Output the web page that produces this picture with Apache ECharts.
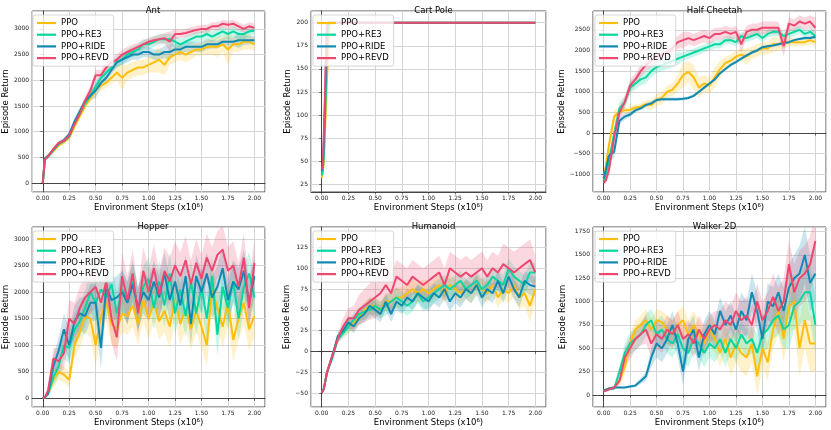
<!DOCTYPE html>
<html>
<head>
<meta charset="UTF-8">
<title>Episode Return</title>
</head>
<body style="margin: 0">
<div id="container" style="width: 831px; height: 430px"></div>

<script type="text/javascript" src="https://cdn.jsdelivr.net/npm/echarts@6/dist/echarts.min.js"></script>
<script type="text/javascript">
    // environment steps (x10^6)
    var steps = [0, 0.02, 0.05, 0.1, 0.15, 0.2, 0.25, 0.3, 0.35, 0.4, 0.45, 0.5, 0.55, 0.6, 0.65, 0.7, 0.75, 0.8, 0.85, 0.9, 0.95,
        1.0, 1.05, 1.1, 1.15, 1.2, 1.25, 1.3, 1.35, 1.4, 1.45, 1.5, 1.55, 1.6, 1.65, 1.7, 1.75, 1.8, 1.85, 1.9, 1.95, 2.0];
    var cartSteps = [0, 0.01, 0.02, 0.03, 0.04, 0.05, 0.06, 0.07, 0.08, 0.1, 0.5, 1.0, 1.5, 2.0];

    var methods = ['PPO', 'PPO+RE3', 'PPO+RIDE', 'PPO+REVD'];
    var colors = ['#FFBE0B', '#06D6A0', '#118AB2', '#EF476F'];

    // Ant
    var antPPO = [0, 470, 520, 620, 730, 800, 880, 1100, 1300, 1500, 1650, 1800, 1900, 1950, 2050, 2150, 2050, 2150, 2200, 2250, 2250,
        2300, 2350, 2400, 2300, 2450, 2500, 2550, 2500, 2550, 2600, 2600, 2650, 2650, 2650, 2700, 2600, 2700, 2700, 2750, 2750, 2700];
    var antRE3 = [0, 460, 510, 640, 760, 820, 900, 1150, 1350, 1550, 1700, 1880, 2050, 2150, 2250, 2350, 2400, 2500, 2550, 2600, 2700,
        2700, 2750, 2800, 2800, 2800, 2750, 2700, 2750, 2800, 2850, 2850, 2900, 2850, 2900, 2950, 2900, 2950, 2900, 2900, 2950, 2970];
    var antRIDE = [0, 480, 530, 650, 770, 830, 950, 1200, 1400, 1600, 1700, 1800, 1950, 2050, 2200, 2350, 2400, 2450, 2500, 2500, 2550,
        2550, 2500, 2500, 2550, 2550, 2600, 2600, 2650, 2650, 2650, 2650, 2700, 2700, 2700, 2750, 2750, 2750, 2780, 2780, 2780, 2780];
    var antREVD = [0, 460, 520, 660, 780, 820, 920, 1150, 1350, 1600, 1800, 2100, 2100, 2250, 2350, 2400, 2500, 2550, 2600, 2650, 2700,
        2750, 2780, 2800, 2820, 2750, 2900, 2900, 2920, 2950, 2980, 3000, 3000, 3050, 3050, 3100, 3080, 3100, 3050, 3000, 3050, 3020];
    var antPPOSd = [0, 20, 30, 40, 40, 50, 50, 60, 60, 70, 80, 90, 100, 100, 120, 150, 250, 150, 150, 150, 150,
        150, 200, 250, 200, 150, 150, 150, 150, 150, 120, 120, 150, 150, 200, 150, 300, 150, 150, 150, 150, 120];
    var antRE3Sd = [0, 20, 30, 40, 40, 50, 50, 60, 60, 60, 70, 80, 80, 80, 80, 100, 100, 100, 100, 100, 100,
        100, 100, 100, 100, 100, 120, 100, 100, 100, 100, 100, 100, 100, 100, 100, 100, 100, 100, 100, 100, 80];
    var antRIDESd = [0, 20, 30, 40, 40, 50, 50, 60, 60, 60, 80, 150, 100, 80, 80, 100, 100, 100, 100, 100, 100,
        100, 100, 100, 120, 150, 100, 100, 100, 100, 100, 100, 100, 80, 80, 80, 80, 80, 150, 100, 80, 80];
    var antREVDSd = [0, 20, 30, 40, 40, 50, 50, 60, 60, 80, 100, 100, 100, 100, 100, 100, 100, 100, 100, 80, 80,
        80, 80, 80, 100, 200, 100, 80, 80, 80, 80, 80, 80, 80, 80, 80, 80, 80, 80, 80, 80, 80];

    // Cart Pole
    var cartPPO = [32, 38, 50, 80, 110, 140, 165, 190, 200, 200, 200, 200, 200, 200];
    var cartRE3 = [35, 40, 55, 90, 130, 170, 200, 200, 200, 200, 200, 200, 200, 200];
    var cartRIDE = [40, 45, 70, 110, 150, 190, 200, 200, 200, 200, 200, 200, 200, 200];
    var cartREVD = [42, 45, 80, 120, 170, 200, 200, 200, 200, 200, 200, 200, 200, 200];
    var cartPPOSd = [6, 6, 10, 12, 12, 10, 8, 5, 0, 0, 0, 0, 0, 0];
    var cartRE3Sd = [5, 5, 8, 10, 10, 5, 0, 0, 0, 0, 0, 0, 0, 0];
    var cartRIDESd = [5, 5, 8, 10, 10, 5, 0, 0, 0, 0, 0, 0, 0, 0];
    var cartREVDSd = [5, 5, 8, 10, 8, 0, 0, 0, 0, 0, 0, 0, 0, 0];

    // Half Cheetah
    var hcPPO = [-1100, -800, -300, 400, 520, 550, 560, 620, 640, 700, 680, 800, 850, 1000, 1050, 1200, 1400, 1480, 1350, 1100, 1200,
        1150, 1350, 1550, 1700, 1750, 1850, 1900, 1850, 1950, 2000, 2050, 2050, 2150, 2150, 2200, 2200, 2200, 2200, 2200, 2250, 2200];
    var hcRE3 = [-1150, -1000, -700, 0, 600, 750, 1100, 1200, 1300, 1350, 1500, 1600, 1650, 1700, 1750, 1800, 1850, 1900, 1950, 2000, 2050,
        2100, 2150, 2150, 2250, 2250, 2200, 2350, 2300, 2350, 2400, 2300, 2400, 2450, 2450, 2350, 2400, 2450, 2500, 2400, 2450, 2350];
    var hcRIDE = [-1100, -900, -550, -450, 300, 400, 450, 550, 600, 680, 720, 800, 820, 820, 820, 820, 830, 850, 900, 1000, 1100,
        1200, 1300, 1450, 1550, 1650, 1720, 1800, 1880, 1950, 2000, 2080, 2100, 2120, 2150, 2180, 2200, 2250, 2280, 2300, 2300, 2330];
    var hcREVD = [-1200, -1150, -900, -100, 500, 750, 1150, 1300, 1500, 1650, 1750, 1850, 1900, 1950, 2050, 2200, 2250, 2300, 2250, 2300, 2350,
        2300, 2400, 2400, 2450, 2400, 2450, 2150, 2450, 2500, 2500, 2550, 2550, 2550, 2550, 2100, 2650, 2600, 2700, 2650, 2700, 2550];
    var hcPPOSd = [50, 100, 200, 150, 100, 80, 80, 80, 80, 100, 120, 150, 150, 150, 150, 200, 300, 250, 300, 250, 200,
        200, 250, 200, 150, 150, 150, 150, 200, 150, 150, 150, 150, 200, 150, 150, 100, 100, 100, 100, 100, 100];
    var hcRE3Sd = [50, 80, 150, 150, 150, 150, 150, 150, 150, 150, 150, 150, 150, 150, 150, 150, 100, 100, 100, 100, 100,
        100, 100, 100, 100, 100, 100, 100, 100, 100, 100, 100, 100, 100, 100, 100, 100, 100, 100, 100, 100, 100];
    var hcRIDESd = [50, 80, 150, 150, 100, 80, 60, 50, 50, 50, 50, 50, 40, 40, 40, 40, 40, 40, 40, 40, 40,
        40, 40, 40, 40, 40, 40, 40, 40, 40, 40, 40, 40, 40, 40, 40, 40, 40, 40, 40, 40, 40];
    var hcREVDSd = [50, 80, 150, 200, 150, 150, 150, 150, 150, 150, 150, 150, 150, 150, 150, 150, 200, 150, 150, 150, 150,
        150, 150, 150, 150, 150, 150, 200, 150, 150, 150, 150, 150, 150, 150, 250, 150, 150, 150, 150, 150, 250];

    // Hopper
    var hopPPO = [0, 20, 100, 350, 500, 450, 350, 1000, 1250, 1550, 1500, 1000, 1550, 1800, 1400, 1300, 1600, 1550, 1750, 1400, 1850,
        1500, 1800, 1450, 1650, 1350, 1850, 1400, 1700, 1300, 1650, 1350, 1000, 2050, 1700, 1350, 1800, 1100, 1500, 1800, 1300, 1550];
    var hopRE3 = [0, 20, 80, 400, 600, 1000, 950, 1300, 1450, 1700, 2000, 1800, 2050, 1900, 2150, 1600, 2050, 1800, 2200, 1650, 2100,
        2250, 1700, 2200, 1750, 2350, 1600, 2050, 1550, 2200, 1600, 2100, 1500, 2300, 1200, 2100, 1700, 2200, 1500, 2100, 2350, 1900];
    var hopRIDE = [0, 20, 100, 600, 900, 1300, 1000, 1450, 1600, 1550, 1800, 1800, 950, 2100, 1850, 1900, 2000, 1800, 2150, 1700, 2000,
        1850, 2200, 1900, 2350, 1850, 2200, 1750, 2300, 1400, 2300, 2000, 2350, 1900, 2100, 2450, 1850, 2200, 2050, 2400, 1800, 2300];
    var hopREVD = [0, 20, 150, 750, 700, 850, 1500, 1400, 1700, 1900, 2000, 2100, 1800, 2200, 1500, 1150, 2300, 1850, 2350, 1600, 2400,
        2000, 2450, 1950, 2400, 2200, 2500, 2300, 2600, 2150, 2550, 2250, 2650, 2400, 2700, 2800, 2400, 2500, 2100, 2650, 1700, 2550];
    var hopPPOSd = [0, 20, 50, 150, 150, 150, 150, 250, 300, 300, 350, 400, 350, 350, 400, 350, 350, 350, 400, 400, 400,
        400, 350, 350, 400, 400, 350, 400, 400, 400, 400, 400, 400, 450, 400, 400, 400, 400, 400, 400, 400, 400];
    var hopRE3Sd = [0, 20, 50, 150, 200, 250, 300, 300, 300, 350, 350, 350, 400, 400, 400, 400, 400, 400, 400, 400, 400,
        400, 400, 400, 400, 400, 400, 400, 400, 400, 400, 400, 400, 400, 400, 400, 400, 400, 400, 400, 400, 400];
    var hopRIDESd = [0, 20, 50, 200, 250, 300, 300, 300, 300, 350, 350, 350, 400, 400, 400, 400, 400, 400, 400, 400, 400,
        400, 400, 400, 400, 400, 400, 400, 400, 400, 400, 400, 400, 400, 400, 400, 400, 400, 400, 400, 400, 400];
    var hopREVDSd = [0, 20, 50, 200, 250, 300, 350, 400, 400, 400, 400, 400, 400, 400, 450, 450, 450, 450, 450, 450, 450,
        450, 450, 450, 450, 450, 450, 450, 450, 450, 450, 450, 450, 450, 450, 450, 450, 450, 450, 450, 450, 450];

    // Humanoid
    var humPPO = [-50, -45, -25, -5, 15, 25, 30, 35, 40, 50, 55, 55, 50, 60, 60, 65, 65, 70, 75, 70, 75,
        70, 75, 80, 70, 80, 75, 70, 75, 70, 80, 75, 70, 80, 65, 75, 70, 80, 65, 70, 55, 75];
    var humRE3 = [-50, -45, -25, -8, 15, 22, 30, 38, 45, 48, 50, 55, 50, 55, 60, 65, 60, 55, 60, 70, 60,
        65, 70, 75, 80, 75, 80, 85, 75, 80, 85, 75, 80, 90, 85, 80, 100, 90, 85, 80, 95, 95];
    var humRIDE = [-50, -45, -25, -5, 18, 25, 35, 30, 40, 45, 55, 50, 45, 60, 45, 60, 55, 65, 60, 70, 65,
        60, 70, 65, 75, 60, 70, 65, 75, 70, 80, 65, 75, 70, 85, 70, 90, 75, 65, 85, 80, 78];
    var humREVD = [-50, -45, -25, -5, 15, 30, 40, 40, 50, 55, 60, 65, 70, 80, 70, 90, 85, 80, 90, 85, 80,
        85, 90, 95, 80, 100, 95, 90, 95, 90, 95, 100, 90, 100, 95, 105, 100, 95, 100, 105, 110, 95];
    var humPPOSd = [0, 2, 3, 4, 5, 6, 8, 8, 8, 10, 10, 10, 10, 10, 10, 12, 12, 12, 12, 12, 12,
        12, 12, 12, 12, 12, 12, 12, 12, 12, 12, 12, 12, 12, 12, 12, 12, 15, 15, 15, 20, 15];
    var humRE3Sd = [0, 2, 3, 4, 5, 6, 8, 8, 8, 10, 10, 10, 10, 12, 12, 12, 12, 12, 12, 12, 12,
        12, 12, 12, 12, 12, 12, 12, 12, 12, 12, 12, 12, 12, 12, 12, 12, 12, 12, 12, 12, 12];
    var humRIDESd = [0, 2, 3, 4, 5, 6, 8, 8, 8, 10, 10, 10, 10, 10, 10, 10, 10, 10, 10, 10, 12,
        12, 12, 12, 12, 12, 12, 12, 12, 12, 12, 12, 12, 12, 12, 12, 12, 12, 12, 12, 12, 12];
    var humREVDSd = [0, 2, 3, 4, 6, 10, 12, 15, 18, 20, 22, 25, 25, 25, 25, 20, 20, 20, 20, 20, 20,
        20, 20, 20, 20, 20, 20, 20, 20, 20, 20, 20, 20, 20, 20, 25, 25, 25, 25, 25, 25, 20];

    // Walker 2D
    var walkPPO = [50, 55, 70, 80, 150, 300, 550, 700, 750, 800, 700, 800, 780, 700, 650, 750, 800, 650, 750, 650, 550,
        700, 600, 450, 600, 400, 550, 450, 400, 550, 200, 500, 350, 700, 900, 600, 950, 1000, 500, 800, 550, 550];
    var walkRE3 = [40, 50, 60, 70, 250, 450, 550, 600, 650, 750, 800, 650, 700, 600, 550, 650, 500, 450, 600, 550, 450,
        550, 500, 600, 450, 600, 500, 650, 550, 600, 450, 650, 700, 800, 850, 700, 750, 950, 1000, 1100, 1100, 750];
    var walkRIDE = [50, 55, 70, 80, 80, 80, 90, 100, 150, 200, 400, 550, 500, 600, 750, 550, 250, 600, 700, 400, 650,
        750, 650, 900, 750, 850, 700, 900, 800, 1100, 900, 600, 1000, 950, 1100, 900, 1150, 1250, 1300, 1500, 1200, 1300];
    var walkREVD = [40, 45, 60, 80, 150, 400, 500, 600, 650, 700, 550, 650, 600, 700, 650, 750, 600, 650, 550, 700, 600,
        700, 750, 700, 800, 750, 900, 800, 850, 750, 1000, 800, 900, 1050, 900, 1000, 1400, 1100, 1250, 1300, 1400, 1650];
    var walkPPOSd = [5, 5, 10, 20, 40, 80, 100, 100, 100, 120, 120, 120, 120, 150, 150, 150, 150, 150, 150, 150, 150,
        150, 150, 150, 150, 200, 200, 200, 200, 200, 200, 200, 200, 200, 250, 250, 250, 300, 300, 300, 300, 300];
    var walkRE3Sd = [5, 5, 10, 20, 60, 100, 120, 120, 120, 120, 120, 150, 150, 150, 150, 150, 150, 150, 150, 150, 150,
        150, 150, 150, 150, 150, 150, 150, 150, 150, 200, 200, 200, 200, 200, 200, 250, 250, 250, 300, 300, 300];
    var walkRIDESd = [5, 5, 10, 10, 10, 10, 10, 20, 30, 50, 100, 150, 150, 150, 150, 150, 150, 150, 150, 150, 150,
        150, 150, 150, 150, 150, 150, 200, 200, 200, 200, 200, 200, 200, 200, 250, 250, 250, 300, 300, 300, 300];
    var walkREVDSd = [5, 5, 10, 20, 40, 100, 120, 120, 120, 150, 150, 150, 150, 150, 150, 150, 150, 150, 150, 150, 150,
        150, 150, 200, 200, 200, 200, 200, 200, 200, 200, 200, 200, 250, 250, 250, 250, 300, 300, 300, 300, 300];

    var panels = [
        {title: 'Ant', steps: steps, means: [antPPO, antRE3, antRIDE, antREVD], sds: [antPPOSd, antRE3Sd, antRIDESd, antREVDSd],
            yMin: -174, yMax: 3348, yStep: 500, left: 31, top: 11, width: 234, height: 181, nameGap: 21},
        {title: 'Cart Pole', steps: cartSteps, means: [cartPPO, cartRE3, cartRIDE, cartREVD], sds: [cartPPOSd, cartRE3Sd, cartRIDESd, cartREVDSd],
            yMin: 17, yMax: 212.6, yStep: 25, left: 311, top: 11, width: 235, height: 181, nameGap: 17},
        {title: 'Half Cheetah', steps: steps, means: [hcPPO, hcRE3, hcRIDE, hcREVD], sds: [hcPPOSd, hcRE3Sd, hcRIDESd, hcREVDSd],
            yMin: -1426, yMax: 2955, yStep: 500, left: 593, top: 11, width: 233, height: 181, nameGap: 26},
        {title: 'Hopper', steps: steps, means: [hopPPO, hopRE3, hopRIDE, hopREVD], sds: [hopPPOSd, hopRE3Sd, hopRIDESd, hopREVDSd],
            yMin: -161, yMax: 3225, yStep: 500, left: 31, top: 227, width: 234, height: 180, nameGap: 21},
        {title: 'Humanoid', steps: steps, means: [humPPO, humRE3, humRIDE, humREVD], sds: [humPPOSd, humRE3Sd, humRIDESd, humREVDSd],
            yMin: -66.8, yMax: 149.7, yStep: 25, left: 311, top: 227, width: 235, height: 180, nameGap: 17},
        {title: 'Walker 2D', steps: steps, means: [walkPPO, walkRE3, walkRIDE, walkREVD], sds: [walkPPOSd, walkRE3Sd, walkRIDESd, walkREVDSd],
            yMin: -129, yMax: 1799, yStep: 250, left: 593, top: 227, width: 233, height: 180, nameGap: 26}
    ];

    var FONT = 'DejaVu Sans';
    var dom = document.getElementById('container');
    var myChart = echarts.init(dom, null, {renderer: 'canvas'});

    var titles = [], grids = [], xAxes = [], yAxes = [], legends = [], series = [];

    function minusSign(v) {
        return String(v).replace('-', '\u2212');
    }

    // shaded band between mean-sd and mean+sd, drawn as one polygon
    function bandSeries(i, xs, m, sd, color) {
        var rows = m.map(function (v, j) { return [xs[j], v - sd[j], v + sd[j]]; });
        return {
            type: 'custom', xAxisIndex: i, yAxisIndex: i, data: rows, silent: true, z: 1, clip: true,
            encode: {x: 0, y: [1, 2]},
            renderItem: function (params, api) {
                if (params.dataIndexInside !== 0) return null;
                var upper = [], lower = [];
                for (var j = 0; j < params.dataInsideLength; j++) {
                    upper.push(api.coord([api.value(0, j), api.value(2, j)]));
                    lower.unshift(api.coord([api.value(0, j), api.value(1, j)]));
                }
                return {
                    type: 'polygon',
                    shape: {points: upper.concat(lower)},
                    style: {fill: color, opacity: 0.22}
                };
            }
        };
    }

    panels.forEach(function (p, i) {
        titles.push({
            text: p.title, left: p.left + p.width / 2, top: p.top - 10, textAlign: 'center',
            textStyle: {fontFamily: FONT, fontSize: 8.5, fontWeight: 'normal', color: '#000'}
        });
        grids.push({
            left: p.left, top: p.top, width: p.width, height: p.height,
            show: true, borderColor: '#222', borderWidth: 0.8, backgroundColor: 'transparent'
        });
        xAxes.push({
            type: 'value', gridIndex: i, min: -0.1, max: 2.1, minInterval: 0.25, maxInterval: 0.25,
            name: 'Environment Steps (x10\u2076)', nameLocation: 'middle', nameGap: 11,
            nameTextStyle: {fontFamily: FONT, fontSize: 8.5, color: '#000'},
            axisLine: {show: true, lineStyle: {color: '#222', width: 0.8}},
            axisTick: {show: true, length: 2.5, lineStyle: {color: '#222', width: 0.6}},
            axisLabel: {
                fontFamily: FONT, fontSize: 6, color: '#222', margin: 3,
                showMinLabel: false, showMaxLabel: false,
                formatter: function (v) { return v.toFixed(2); }
            },
            splitLine: {show: true, lineStyle: {color: '#d4d4d4', width: 1}}
        });
        yAxes.push({
            type: 'value', gridIndex: i, min: p.yMin, max: p.yMax, minInterval: p.yStep, maxInterval: p.yStep,
            name: 'Episode Return', nameLocation: 'middle', nameGap: p.nameGap,
            nameTextStyle: {fontFamily: FONT, fontSize: 8.5, color: '#000'},
            axisLine: {show: true, lineStyle: {color: '#222', width: 0.8}},
            axisTick: {show: true, length: 2.5, lineStyle: {color: '#222', width: 0.6}},
            axisLabel: {
                fontFamily: FONT, fontSize: 6, color: '#222', margin: 3,
                showMinLabel: false, showMaxLabel: false,
                formatter: minusSign
            },
            splitLine: {show: true, lineStyle: {color: '#d4d4d4', width: 1}}
        });
        legends.push({
            data: methods, orient: 'vertical', left: p.left + 2, top: p.top + 4,
            icon: 'rect', itemWidth: 19, itemHeight: 2.2, itemGap: 1.7,
            padding: [3, 5, 3, 4], backgroundColor: 'rgba(255,255,255,0.8)',
            borderColor: '#cccccc', borderWidth: 0.8, borderRadius: 2,
            textStyle: {fontFamily: FONT, fontSize: 8.5, color: '#000', lineHeight: 10},
            selectedMode: false
        });

        p.means.forEach(function (m, k) {
            series.push(bandSeries(i, p.steps, m, p.sds[k], colors[k]));
        });
        // mean curves
        p.means.forEach(function (m, k) {
            series.push({
                name: methods[k], type: 'line', xAxisIndex: i, yAxisIndex: i,
                data: m.map(function (v, j) { return [p.steps[j], v]; }),
                symbol: 'none', color: colors[k], itemStyle: {color: colors[k]},
                lineStyle: {color: colors[k], width: 2}, z: 2
            });
        });
    });

    var option = {
        animation: false,
        backgroundColor: '#ffffff',
        title: titles,
        grid: grids,
        xAxis: xAxes,
        yAxis: yAxes,
        legend: legends,
        series: series
    };
    myChart.setOption(option);
</script>
</body>
</html>
